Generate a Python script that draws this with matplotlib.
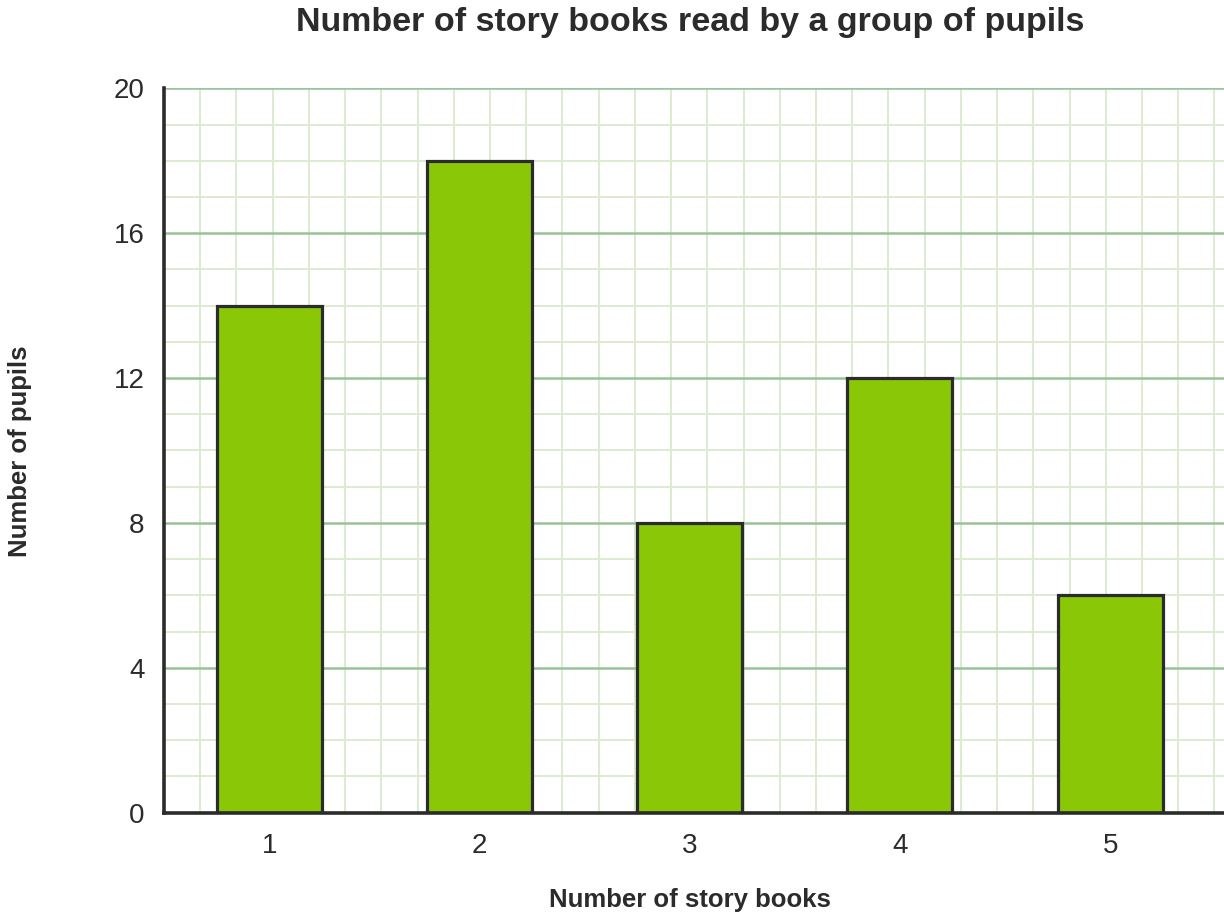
import matplotlib
matplotlib.use("Agg")
import matplotlib.pyplot as plt
import numpy as np

categories = ["1", "2", "3", "4", "5"]
pupils = [14, 18, 8, 12, 6]
yticks = [0, 4, 8, 12, 16, 20]

plt.rcParams['font.family'] = ['Liberation Sans', 'DejaVu Sans']

W, H = 1224, 922
fig = plt.figure(figsize=(W / 100, H / 100), dpi=100)
left_px, right_px, top_px, bot_px = 164, 1224, 88.3, 812.7
ax = fig.add_axes([left_px / W, (H - bot_px) / H, (right_px - left_px) / W, (bot_px - top_px) / H])

x = np.arange(1, len(categories) + 1)
unit_px = 210.25
xmax = 0.5 + (right_px - left_px) / unit_px
ax.set_xlim(0.5, xmax)
ax.set_ylim(0, 20)

# grid
ypx = (bot_px - top_px) / 20
step = ypx / unit_px
minor_x = np.arange(0.5, xmax + 1e-9, step)
for xv in minor_x[1:]:
    ax.axvline(xv, color='#dcebd0', lw=1.4, zorder=0)
for yv in range(1, 21):
    if yv % 4 != 0:
        ax.axhline(yv, color='#dcebd0', lw=1.4, zorder=0)
for yv in yticks[1:]:
    ax.axhline(yv, color='#98c298', lw=1.8, zorder=1)

ax.bar(x, pupils, width=0.5, color='#8ac807', edgecolor='#2b2b2b', linewidth=2.3, zorder=3)

ax.set_xticks(x)
ax.set_xticklabels(categories)
ax.set_yticks(yticks)
ax.tick_params(axis='both', length=0, labelsize=20, colors='#2b2b2b')
ax.tick_params(axis='x', pad=14.5)
ax.tick_params(axis='y', pad=14)

for s in ['top', 'right']:
    ax.spines[s].set_visible(False)
for s in ['left', 'bottom']:
    ax.spines[s].set_color('#2b2b2b')
    ax.spines[s].set_linewidth(2.6)
    ax.spines[s].set_zorder(5)

fig.text(690 / W, 1 - 23 / H, "Number of story books read by a group of pupils",
         ha='center', va='center', fontsize=24.5, fontweight='bold', color='#2b2b2b')
fig.text(690 / W, 1 - 900 / H, "Number of story books",
         ha='center', va='center', fontsize=18.5, fontweight='bold', color='#2b2b2b')
fig.text(20 / W, 1 - 451 / H, "Number of pupils", rotation=90,
         ha='center', va='center', fontsize=18.5, fontweight='bold', color='#2b2b2b')

fig.savefig("out.png", dpi=100)
